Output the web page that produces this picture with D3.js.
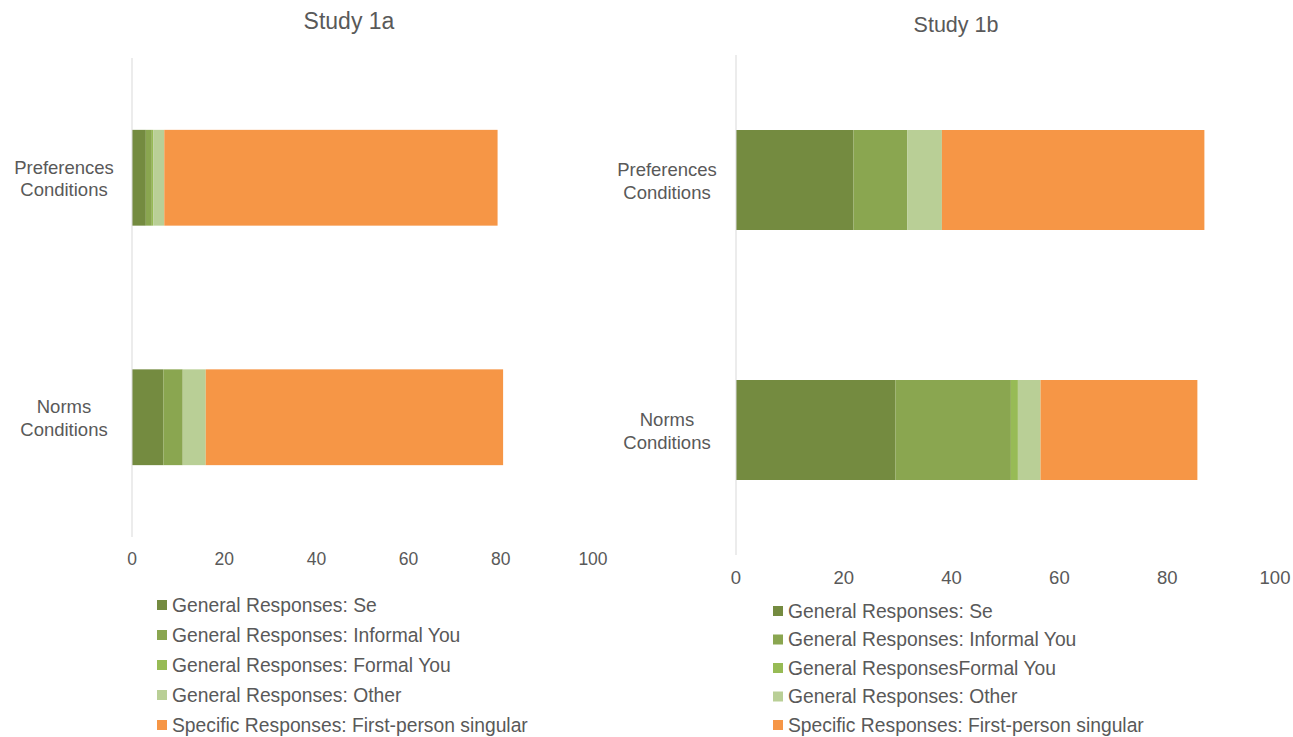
<!DOCTYPE html>
<html lang="en">
<head>
<meta charset="UTF-8">
<title>Study 1a / Study 1b</title>
<style>
  body { margin: 0; background: #ffffff; }
  text { font-family: Arial, "Liberation Sans", sans-serif; fill: #595959; }
  .axis-line { stroke: #d9d9d9; stroke-width: 1; }
</style>
</head>
<body>
<div id="chart"></div>
<script src="https://cdnjs.cloudflare.com/ajax/libs/d3/7.8.5/d3.min.js"></script>
<script>
// --- data (percent of responses) ---
var conditions = ["Preferences Conditions", "Norms Conditions"];
var ticks = [0, 20, 40, 60, 80, 100];
var seriesKeys = ["se", "informal", "formal", "other", "specific"];
var legend1a = ["General Responses: Se", "General Responses: Informal You", "General Responses: Formal You",
                "General Responses: Other", "Specific Responses: First-person singular"];
var legend1b = ["General Responses: Se", "General Responses: Informal You", "General ResponsesFormal You",
                "General Responses: Other", "Specific Responses: First-person singular"];

var se1a       = [3.0, 6.8];
var informal1a = [1.3, 4.2];
var formal1a   = [0.3, 0.0];
var other1a    = [2.4, 5.0];
var specific1a = [72.3, 64.5];

var se1b       = [21.8, 29.6];
var informal1b = [10.0, 21.4];
var formal1b   = [0.0, 1.3];
var other1b    = [6.4, 4.2];
var specific1b = [48.7, 29.1];

var colors = ["#748b40", "#8aa650", "#97bb55", "#b9cf96", "#f69646"];

function rows(se, inf, form, oth, spec) {
  return conditions.map(function(c, i) {
    return { cond: c, se: se[i], informal: inf[i], formal: form[i], other: oth[i], specific: spec[i] };
  });
}

var panels = [
  { title: "Study 1a", data: rows(se1a, informal1a, formal1a, other1a, specific1a), legend: legend1a,
    x0: 132, x1: 593, y0: 58, y1: 537, titleX: 349, titleY: 29, titleSize: 23, tickY: 565, tickSize: 17.5,
    labelX: 64, labelSize: 18.5, legX: 157, legY: 605, legStep: 30, legSize: 19.3 },
  { title: "Study 1b", data: rows(se1b, informal1b, formal1b, other1b, specific1b), legend: legend1b,
    x0: 736, x1: 1275, y0: 55, y1: 555, titleX: 956, titleY: 32, titleSize: 21.5, tickY: 584, tickSize: 18.5,
    labelX: 667, labelSize: 18.5, legX: 773, legY: 611, legStep: 28.5, legSize: 19.3 }
];

var svg = d3.select("#chart").append("svg")
  .attr("width", 1293)
  .attr("height", 737);

var stack = d3.stack().keys(seriesKeys);

panels.forEach(function(p) {
  var g = svg.append("g");
  var x = d3.scaleLinear().domain([0, 100]).range([p.x0, p.x1]);
  var y = d3.scaleBand().domain(conditions).range([p.y0, p.y1]).paddingInner(0.6).paddingOuter(0.3);

  g.append("text")
    .attr("x", p.titleX).attr("y", p.titleY)
    .attr("text-anchor", "middle")
    .style("font-size", p.titleSize + "px")
    .text(p.title);

  // bars
  var layers = stack(p.data);
  g.selectAll("g.layer").data(layers).enter().append("g")
    .attr("class", "layer")
    .attr("fill", function(d, i) { return colors[i]; })
    .selectAll("rect").data(function(d) { return d; }).enter().append("rect")
      .attr("x", function(d) { return x(d[0]); })
      .attr("width", function(d) { return Math.max(0, x(d[1]) - x(d[0])); })
      .attr("y", function(d) { return y(d.data.cond); })
      .attr("height", y.bandwidth());

  // vertical category axis line
  g.append("line").attr("class", "axis-line")
    .attr("x1", x(0)).attr("x2", x(0))
    .attr("y1", p.y0).attr("y2", p.y1);

  // x tick labels
  g.selectAll("text.tick").data(ticks).enter().append("text")
    .attr("class", "tick")
    .attr("x", function(d) { return x(d); })
    .attr("y", p.tickY)
    .attr("text-anchor", "middle")
    .style("font-size", p.tickSize + "px")
    .text(function(d) { return d; });

  // category labels, two lines
  conditions.forEach(function(c) {
    var parts = c.split(" ");
    var cy = y(c) + y.bandwidth() / 2;
    var t = g.append("text")
      .attr("text-anchor", "middle")
      .style("font-size", p.labelSize + "px");
    parts.forEach(function(s, i) {
      t.append("tspan")
        .attr("x", p.labelX)
        .attr("y", cy - 4 + i * 22.5)
        .text(s);
    });
  });

  // legend
  var leg = g.selectAll("g.leg").data(p.legend).enter().append("g")
    .attr("transform", function(d, i) { return "translate(" + p.legX + "," + (p.legY + i * p.legStep) + ")"; });
  leg.append("rect")
    .attr("x", 0).attr("y", -5).attr("width", 10).attr("height", 10)
    .attr("fill", function(d, i) { return colors[i]; });
  leg.append("text")
    .attr("x", 15).attr("y", 0).attr("dy", "0.35em")
    .style("font-size", p.legSize + "px")
    .text(function(d) { return d; });
});
</script>
</body>
</html>
